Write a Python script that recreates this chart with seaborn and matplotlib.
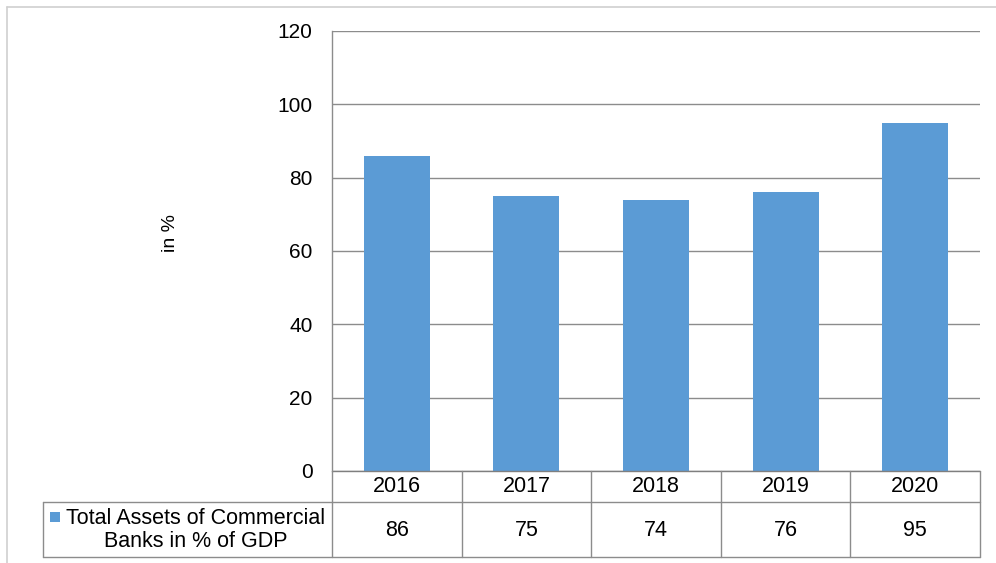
import matplotlib
matplotlib.use("Agg")
import matplotlib.pyplot as plt
import matplotlib.transforms as mtransforms
from matplotlib.patches import Rectangle
from matplotlib.lines import Line2D
import seaborn as sns
import pandas as pd

years = ["2016", "2017", "2018", "2019", "2020"]
assets_pct_gdp = [86, 75, 74, 76, 95]
series_name = "Total Assets of Commercial\nBanks in % of GDP"
y_label = "in %"
y_ticks = [0, 20, 40, 60, 80, 100, 120]

bar_color = "#5B9BD5"
grid_color = "#8C8C8C"
table_color = "#8C8C8C"

sns.set_theme(style="white")
plt.rcParams["font.family"] = ["Liberation Sans", "DejaVu Sans"]

W, H = 996, 563
fig = plt.figure(figsize=(W / 100, H / 100), dpi=100)

# plot area in pixel terms
left, right, top, bottom = 332, 980, 31, 471
ax = fig.add_axes([left / W, (H - bottom) / H, (right - left) / W, (bottom - top) / H])

df = pd.DataFrame({"year": years, "value": assets_pct_gdp})
sns.barplot(data=df, x="year", y="value", color=bar_color, saturation=1,
            width=0.51, ax=ax, edgecolor="none")

ax.set_xlim(-0.5, len(years) - 0.5)
ax.set_ylim(0, 120)
ax.set_yticks(y_ticks)
ax.set_yticklabels([str(t) for t in y_ticks], fontsize=15, color="black")
ax.tick_params(axis="y", length=0, pad=14)
ax.set_xticks([])
ax.set_xlabel("")
ax.set_ylabel(y_label, fontsize=14, color="black")
ax.yaxis.set_label_coords(-0.236, 0.54)
ax.grid(axis="y", color=grid_color, linewidth=1)
ax.set_axisbelow(True)
for side in ["top", "right", "bottom"]:
    ax.spines[side].set_visible(False)
ax.spines["left"].set_color(grid_color)
ax.spines["left"].set_linewidth(1)

# data table underneath the axis: x in data units, y in axes units
trans = mtransforms.blended_transform_factory(ax.transData, ax.transAxes)
ph = bottom - top
hdr_bot = -(502 - bottom) / ph
row_bot = -(557 - bottom) / ph
px_per_unit = (right - left) / len(years)
tbl_left = (43 - left) / px_per_unit - 0.5
n = len(years)

def hline(x0, x1, y, color=table_color, lw=1.0):
    ax.add_line(Line2D([x0, x1], [y, y], transform=trans, color=color,
                       lw=lw, clip_on=False))

def vline(x, y0, y1, color=table_color, lw=1.0):
    ax.add_line(Line2D([x, x], [y0, y1], transform=trans, color=color,
                       lw=lw, clip_on=False))

hline(-0.5, n - 0.5, 0, color="#7F7F7F")
hline(tbl_left, n - 0.5, hdr_bot)
hline(tbl_left, n - 0.5, row_bot)
for i in range(n + 1):
    vline(i - 0.5, 0, row_bot)
vline(tbl_left, hdr_bot, row_bot)

table_fs = 15.5
for i, (yr, v) in enumerate(zip(years, assets_pct_gdp)):
    ax.text(i, hdr_bot / 2, yr, transform=trans, ha="center", va="center",
            fontsize=table_fs, color="black", clip_on=False)
    ax.text(i, (hdr_bot + row_bot) / 2 - 0.003, str(v), transform=trans, ha="center",
            va="center", fontsize=table_fs, color="black", clip_on=False)

# series label with its colour key
label_x = (196 - left) / px_per_unit - 0.5
ax.text(label_x, (hdr_bot + row_bot) / 2 - 0.002, series_name, transform=trans,
        ha="center", va="center", fontsize=table_fs, color="black",
        linespacing=1.12, clip_on=False)
key_x0 = (50 - left) / px_per_unit - 0.5
key_w = 10 / px_per_unit
key_y1 = -(512 - bottom) / ph
key_h = 10 / ph
ax.add_patch(Rectangle((key_x0, key_y1 - key_h), key_w, key_h, transform=trans,
                       facecolor=bar_color, edgecolor="none", clip_on=False))

# light frame round the chart
fig.add_artist(Line2D([7 / W, 1], [1 - 7 / H, 1 - 7 / H], transform=fig.transFigure,
                      color="#D0D0D0", lw=1.2))
fig.add_artist(Line2D([7 / W, 7 / W], [0, 1 - 7 / H], transform=fig.transFigure,
                      color="#D0D0D0", lw=1.2))

fig.savefig("out.png", dpi=100, facecolor="white")
